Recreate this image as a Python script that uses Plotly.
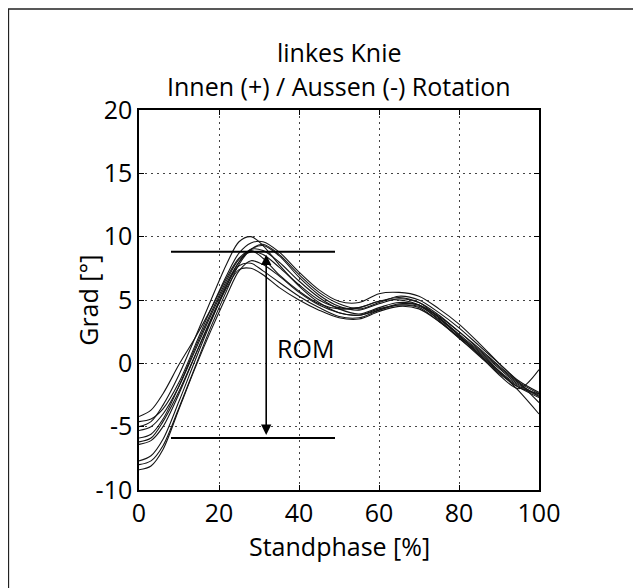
import plotly.graph_objects as go

# Stance phase sample points [%]
phase = [0, 3, 6, 10, 14, 18, 22, 25, 28, 31, 35, 40, 45, 50, 55, 60, 65, 70, 75, 80, 85, 90, 95, 100]

# Knee rotation [deg] for each trial
trial_1 = [-4.2, -3.7, -2.4, -0.1, 2.0, 4.3, 6.8, 8.3, 8.9, 8.3, 7.0, 5.7, 4.7, 4.3, 4.4, 4.9, 5.0, 4.6, 3.4, 2.0, 0.6, -0.8, -1.9, -2.4]
trial_2 = [-5.0, -4.6, -3.3, -0.9, 2.0, 5.0, 7.9, 9.6, 10.0, 9.3, 7.8, 6.1, 4.8, 4.0, 3.8, 4.3, 4.6, 4.4, 3.3, 2.1, 0.8, -0.6, -1.8, -2.6]
trial_3 = [-5.3, -5.0, -4.0, -1.8, 1.0, 3.8, 6.4, 8.0, 9.0, 9.3, 8.5, 6.8, 5.4, 4.5, 4.2, 4.7, 5.1, 4.8, 3.8, 2.5, 1.2, -0.2, -1.5, -2.4]
trial_4 = [-6.2, -5.9, -4.6, -2.2, 0.6, 3.4, 6.0, 7.4, 7.5, 7.0, 6.0, 5.0, 4.2, 3.6, 3.5, 4.1, 4.5, 4.3, 3.3, 2.0, 0.7, -0.7, -1.9, -2.7]
trial_5 = [-7.7, -7.3, -6.0, -3.0, 0.2, 3.3, 6.2, 8.0, 9.0, 8.9, 8.0, 6.5, 5.2, 4.3, 3.9, 4.4, 4.8, 4.6, 3.6, 2.3, 1.0, -0.4, -1.7, -2.5]
trial_6 = [-8.0, -7.7, -6.5, -3.5, -0.3, 2.9, 5.8, 7.8, 9.0, 9.4, 8.6, 7.0, 5.6, 4.7, 4.3, 4.8, 5.3, 5.0, 4.0, 2.8, 1.4, 0.0, -1.4, -2.3]
trial_7 = [-8.4, -8.1, -6.8, -3.6, -0.4, 2.6, 5.4, 7.3, 8.1, 7.8, 6.9, 5.6, 4.6, 4.0, 3.8, 4.2, 4.6, 4.5, 3.5, 2.2, 0.9, -0.6, -2.2, -4.0]
trial_8 = [-5.9, -5.6, -4.4, -1.8, 1.2, 4.0, 6.6, 8.2, 8.8, 8.6, 7.6, 6.2, 5.0, 4.4, 4.4, 4.9, 5.2, 4.8, 3.6, 2.2, 0.7, -0.9, -2.0, -0.5]
trial_9 = [-4.6, -4.4, -3.6, -1.5, 1.4, 4.3, 7.0, 8.7, 9.5, 9.6, 8.8, 7.2, 5.8, 4.9, 4.8, 5.5, 5.6, 5.3, 4.3, 3.1, 1.6, 0.0, -1.5, -3.1]
trial_10 = [-6.4, -6.1, -5.0, -2.4, 0.6, 3.5, 6.2, 7.7, 7.9, 7.3, 6.4, 5.3, 4.4, 3.7, 3.6, 4.2, 4.7, 4.6, 3.7, 2.5, 1.1, -0.3, -1.6, -2.6]
trials = [trial_1, trial_2, trial_3, trial_4, trial_5, trial_6, trial_7, trial_8, trial_9, trial_10]

# ROM annotation values
rom_max = 8.8
rom_min = -5.9
rom_x = 31.8
rom_line_x = [8, 49]
rom_label = "ROM"
rom_label_pos = [41.5, 1.2]

x_ticks = [0, 20, 40, 60, 80, 100]
y_ticks = [-10, -5, 0, 5, 10, 15, 20]

title_1 = "linkes Knie"
title_2 = "Innen (+) / Aussen (-) Rotation"
x_title = "Standphase [%]"
y_title = "Grad [°]"

FONT = "Open Sans"
FS = 25

fig = go.Figure()
for t in trials:
    fig.add_trace(go.Scatter(x=phase, y=t, mode="lines",
                             line=dict(color="#151515", width=1.1, shape="spline", smoothing=0.9),
                             showlegend=False, hoverinfo="skip"))

# ROM horizontal lines
for yv in (rom_max, rom_min):
    fig.add_trace(go.Scatter(x=rom_line_x, y=[yv, yv], mode="lines",
                             line=dict(color="black", width=2), showlegend=False, hoverinfo="skip"))

fig.add_annotation(x=rom_x, y=rom_min + 0.25, ax=rom_x, ay=rom_max - 0.1,
                   xref="x", yref="y", axref="x", ayref="y",
                   text="", showarrow=True, arrowhead=2, arrowside="end+start",
                   arrowsize=1.3, arrowwidth=1.6, arrowcolor="black")
fig.add_annotation(x=rom_label_pos[0], y=rom_label_pos[1], xref="x", yref="y",
                   text=rom_label, showarrow=False,
                   font=dict(family=FONT, size=FS, color="black"))

fig.add_annotation(x=0.5, y=1.152, xref="paper", yref="paper", text=title_1, showarrow=False,
                   font=dict(family=FONT, size=FS, color="black"), yanchor="middle")
fig.add_annotation(x=0.5, y=1.064, xref="paper", yref="paper", text=title_2, showarrow=False,
                   font=dict(family=FONT, size=FS, color="black"), yanchor="middle")

# axis titles
fig.add_annotation(x=0.5, y=-0.148, xref="paper", yref="paper", text=x_title, showarrow=False,
                   font=dict(family=FONT, size=FS, color="black"), yanchor="middle")
fig.add_annotation(x=-0.128, y=0.5, xref="paper", yref="paper", text=y_title, showarrow=False,
                   textangle=-90, font=dict(family=FONT, size=FS, color="black"),
                   xanchor="center", yanchor="middle")

# outer frame
fig.add_shape(type="rect", xref="paper", yref="paper",
              x0=-0.3265, x1=1.35, y0=-0.35, y1=1.266,
              line=dict(color="#222", width=1.5), fillcolor="rgba(0,0,0,0)")

axis_common = dict(showline=True, linecolor="black", linewidth=1.5, mirror="ticks",
                   ticks="inside", ticklen=5, tickcolor="black", tickwidth=1,
                   showgrid=True, gridcolor="#444", gridwidth=1, griddash="2px,4px",
                   zeroline=False, tickfont=dict(family=FONT, size=FS, color="black"))

fig.update_xaxes(range=[0, 100], tickvals=x_ticks, ticktext=[str(v) for v in x_ticks], **axis_common)
fig.update_yaxes(range=[-10, 20], tickvals=y_ticks, ticktext=[str(v) for v in y_ticks], **axis_common)

fig.update_layout(width=633, height=580, margin=dict(l=131, r=102, t=102, b=98),
                  plot_bgcolor="white", paper_bgcolor="white", showlegend=False)

fig.write_html("out.html")
